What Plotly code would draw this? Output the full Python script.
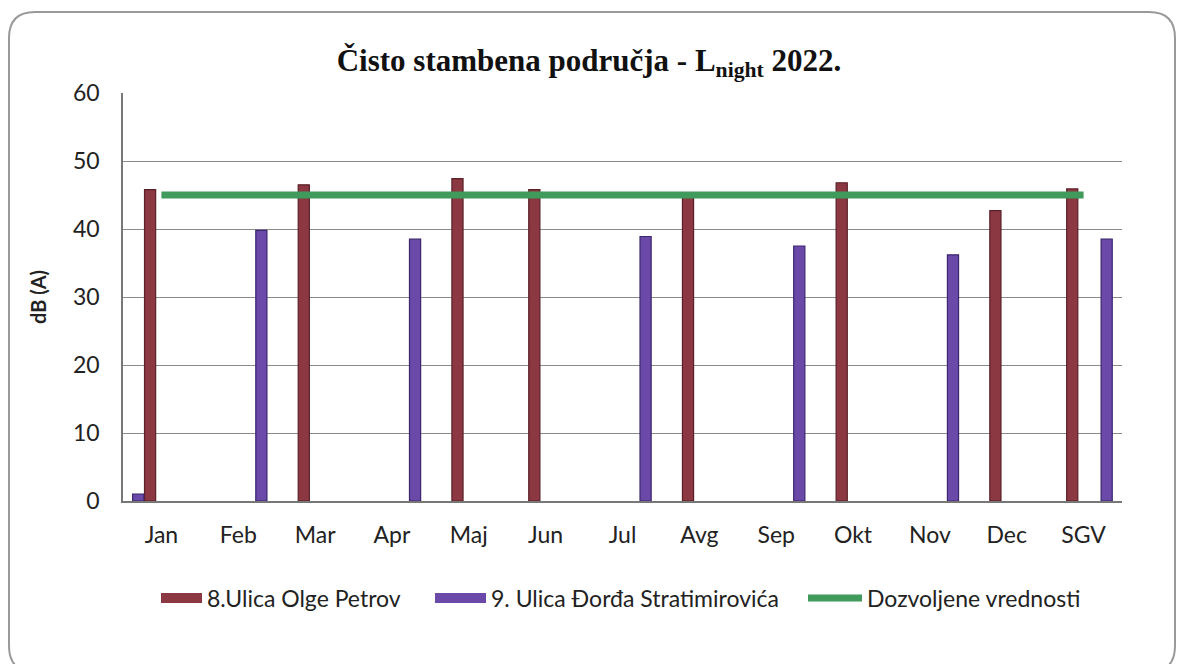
import plotly.graph_objects as go

categories = ["Jan", "Feb", "Mar", "Apr", "Maj", "Jun", "Jul", "Avg", "Sep", "Okt", "Nov", "Dec", "SGV"]
olge_petrov = [45.8, None, 46.5, None, 47.4, 45.8, None, 45.2, None, 46.8, None, 42.7, 45.9]
stratimirovica = [1.0, 39.8, None, 38.5, None, None, 38.9, None, 37.5, None, 36.2, None, 38.5]
dozvoljene = [45] * 13
y_ticks = [0, 10, 20, 30, 40, 50, 60]

name_red = "8.Ulica Olge Petrov"
name_purple = "9. Ulica Đorđa Stratimirovića"
name_green = "Dozvoljene vrednosti"

# plot-area geometry in pixels (for the border shape and legends)
W, H = 1178, 664
ML, MR, MT, MB = 123, 56, 93, 163
PW, PH = W - ML - MR, H - MT - MB

def px_x(px):
    return (px - ML) / PW

def px_y(py):
    return (H - MB - py) / PH

def rounded_rect(x0, y0, x1, y1, r):
    pts = [
        f"M {px_x(x0 + r)} {px_y(y0)}",
        f"L {px_x(x1 - r)} {px_y(y0)}",
        f"Q {px_x(x1)} {px_y(y0)} {px_x(x1)} {px_y(y0 + r)}",
        f"L {px_x(x1)} {px_y(y1 - r)}",
        f"Q {px_x(x1)} {px_y(y1)} {px_x(x1 - r)} {px_y(y1)}",
        f"L {px_x(x0 + r)} {px_y(y1)}",
        f"Q {px_x(x0)} {px_y(y1)} {px_x(x0)} {px_y(y1 - r)}",
        f"L {px_x(x0)} {px_y(y0 + r)}",
        f"Q {px_x(x0)} {px_y(y0)} {px_x(x0 + r)} {px_y(y0)}",
        "Z",
    ]
    return " ".join(pts)

bar_w = 0.145
red_offset = -0.22
purple_offsets = [-0.375] + [0.228] * 12

red = "#8c3843"
red_edge = "#5a1f27"
purple = "#6a49a8"
purple_edge = "#3b2670"
green = "#3f9a5c"

fig = go.Figure()
fig.add_trace(go.Bar(
    x=categories, y=olge_petrov, name=name_red, legendgroup="red", showlegend=False,
    width=bar_w, offset=red_offset,
    marker=dict(color=red, line=dict(color=red_edge, width=1.2)),
))
fig.add_trace(go.Bar(
    x=categories, y=stratimirovica, name=name_purple, legendgroup="purple", showlegend=False,
    width=bar_w, offset=purple_offsets,
    marker=dict(color=purple, line=dict(color=purple_edge, width=1.2)),
))
fig.add_trace(go.Scatter(
    x=categories, y=dozvoljene, name=name_green, legend="legend3",
    mode="lines", line=dict(color=green, width=7),
))
# legend-only entries drawn as wide rectangles, like the reference legend
fig.add_trace(go.Scatter(
    x=[None], y=[None], name=name_red, legendgroup="red", mode="lines", legend="legend",
    line=dict(color=red, width=10),
))
fig.add_trace(go.Scatter(
    x=[None], y=[None], name=name_purple, legendgroup="purple", mode="lines", legend="legend2",
    line=dict(color=purple, width=10),
))

leg_font = dict(family="Lato", size=23, color="#222222")
leg_y = px_y(598)

def leg(x_px, iw):
    return dict(
        orientation="h", x=px_x(x_px), xanchor="left", y=leg_y, yanchor="middle",
        font=leg_font, itemwidth=iw, bgcolor="rgba(0,0,0,0)",
    )

fig.update_layout(
    width=W, height=H,
    margin=dict(l=ML, r=MR, t=MT, b=MB),
    paper_bgcolor="white", plot_bgcolor="white",
    barmode="overlay",
    font=dict(family="Lato", size=23, color="#222222"),
    title=dict(
        text="<b>Čisto stambena područja - L<sub>night</sub> 2022.</b>",
        x=0.5, xanchor="center", y=1 - 60 / H, yanchor="middle",
        font=dict(family="Liberation Serif", size=31, color="#111111"),
    ),
    xaxis=dict(
        type="category", categoryorder="array", categoryarray=categories,
        range=[-0.5, 12.5],
        showgrid=False, showline=True, linecolor="#777777", linewidth=1.5,
        ticks="", ticklabelstandoff=13,
        tickfont=dict(family="Lato", size=23, color="#222222"),
    ),
    yaxis=dict(
        range=[0, 60], tickvals=y_ticks,
        showgrid=True, gridcolor="#8a8a8a", gridwidth=1,
        showline=True, linecolor="#777777", linewidth=1.5,
        ticks="", ticklabelstandoff=17, zeroline=False,
        tickfont=dict(family="Lato", size=23, color="#222222"),
        title=dict(text="<b>dB (A)</b>", standoff=21,
                   font=dict(family="Lato", size=20, color="#222222")),
    ),
    legend=leg(156, 41),
    legend2=leg(430, 51),
    legend3=leg(803, 54),
    shapes=[dict(
        type="path", xref="paper", yref="paper",
        path=rounded_rect(9, 12, 1175, 672, 26),
        line=dict(color="#9a9a9a", width=2), layer="below",
    )],
    showlegend=True,
)

fig.write_html("out.html", config={"displayModeBar": False},
               post_script="document.body.style.margin='0';")
